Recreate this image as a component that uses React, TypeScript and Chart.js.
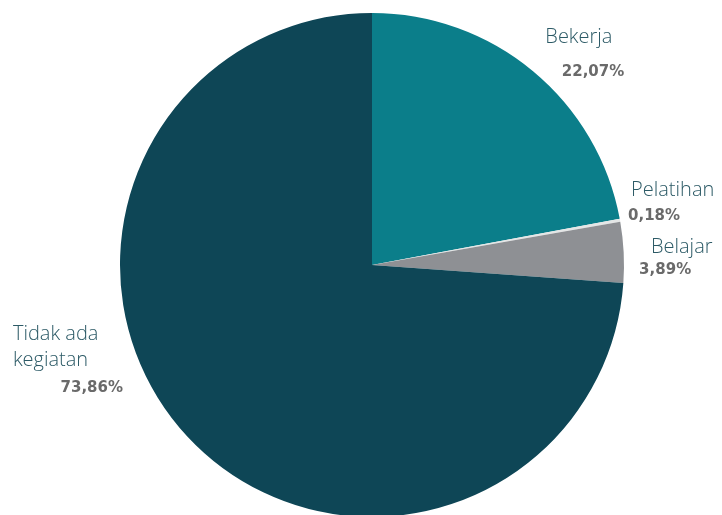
import React, { useEffect, useRef } from "react";
import { Chart, registerables } from "chart.js";

Chart.register(...registerables);

const categories = ["Bekerja", "Pelatihan", "Belajar", "Tidak ada kegiatan"];
const values = [22.07, 0.18, 3.89, 73.86];
const percentLabels = ["22,07%", "0,18%", "3,89%", "73,86%"];
const nameLines = [["Bekerja"], ["Pelatihan"], ["Belajar"], ["Tidak ada", "kegiatan"]];
const sliceColors = ["#0b7e8a", "#e4e6e6", "#8e9094", "#0e4656"];

// label layout relative to pie centre, in units of radius
const labelLayout = [
  { nx: 0.821, ny: -0.905, na: "center", px: 0.877, py: -0.766, pa: "center" },
  { nx: 1.028, ny: -0.298, na: "left", px: 1.016, py: -0.194, pa: "left" },
  { nx: 1.107, ny: -0.071, na: "left", px: 1.06, py: 0.022, pa: "left" },
  { nx: -1.425, ny: 0.274, na: "left", px: -0.988, py: 0.49, pa: "right" },
];

const labelPlugin = {
  id: "pieLabels",
  afterDatasetsDraw(chart: any) {
    const meta = chart.getDatasetMeta(0);
    const arc = meta.data[0];
    if (!arc) return;
    const { x: cx, y: cy, outerRadius: r } = arc.getProps(["x", "y", "outerRadius"], true);
    const ctx = chart.ctx as CanvasRenderingContext2D;
    ctx.save();
    ctx.textBaseline = "middle";
    labelLayout.forEach((l, i) => {
      ctx.font = "300 20px 'Open Sans'";
      ctx.fillStyle = "#2c5a66";
      ctx.textAlign = l.na as CanvasTextAlign;
      nameLines[i].forEach((t, j) => {
        ctx.fillText(t, cx + l.nx * r, cy + l.ny * r + j * 26);
      });
      ctx.font = "bold 15px 'DejaVu Sans'";
      ctx.fillStyle = "#6a6a6a";
      ctx.textAlign = l.pa as CanvasTextAlign;
      ctx.fillText(percentLabels[i], cx + l.px * r, cy + l.py * r);
    });
    ctx.restore();
  },
};

export default function App() {
  const ref = useRef<HTMLCanvasElement>(null);
  useEffect(() => {
    if (!ref.current) return;
    const chart = new Chart(ref.current, {
      type: "pie",
      data: {
        labels: categories,
        datasets: [
          {
            data: values,
            backgroundColor: sliceColors,
            borderWidth: 0,
          },
        ],
      },
      options: {
        responsive: false,
        animation: false,
        layout: { padding: { left: 120, right: 98, top: 13, bottom: 13 } },
        plugins: { legend: { display: false }, tooltip: { enabled: false } },
      },
      plugins: [labelPlugin],
    });
    return () => chart.destroy();
  }, []);
  return (
    <div
      style={{
        position: "fixed",
        left: 0,
        top: 0,
        width: 722,
        height: 515,
        overflow: "hidden",
        background: "#ffffff",
      }}
    >
      <canvas ref={ref} width={722} height={530} style={{ display: "block" }} />
    </div>
  );
}
